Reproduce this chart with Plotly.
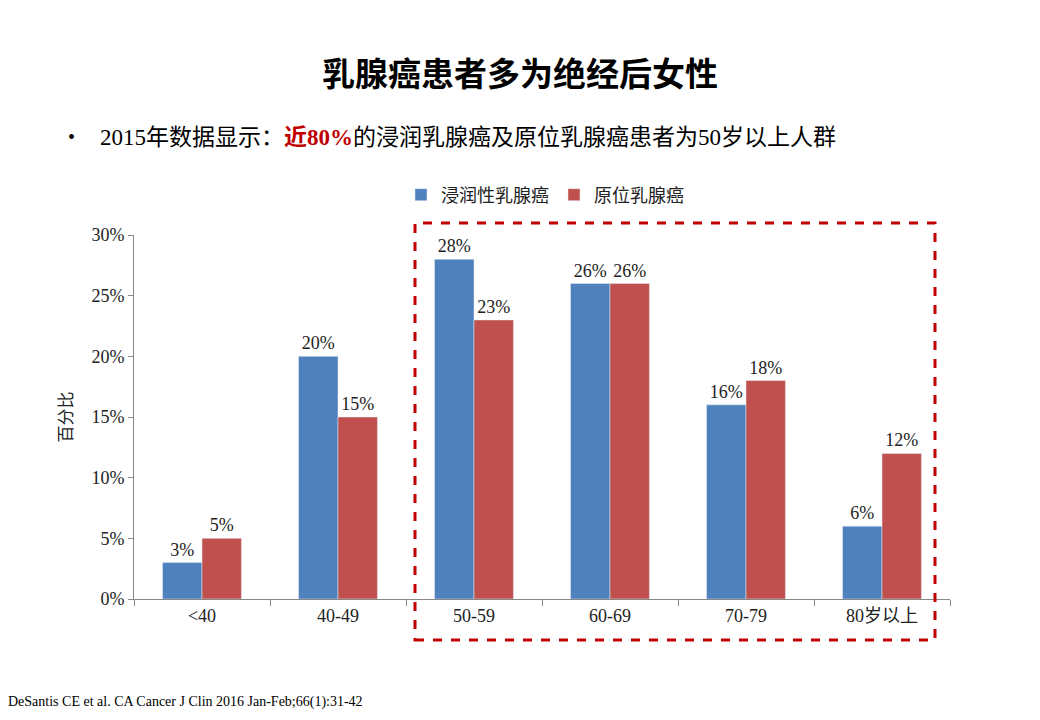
import plotly.graph_objects as go

categories = ["<40", "40-49", "50-59", "60-69", "70-79", "80岁以上"]
invasive = [3, 20, 28, 26, 16, 6]
insitu = [5, 15, 23, 26, 18, 12]
series_names = ["浸润性乳腺癌", "原位乳腺癌"]

serif = "Liberation Serif, Times New Roman, serif"
cjk = "Noto Sans CJK SC, sans-serif"

L, R, T, B = 126, 98, 227, 129
W = 1040 - L - R
H = 720 - T - B
def px(x): return (x - 8 - L) / W
def py(y): return (720 - B - (y - 8)) / H

fig = go.Figure()
for name, vals, col in [(series_names[0], invasive, "#4F81BD"), (series_names[1], insitu, "#C0504D")]:
    fig.add_trace(go.Bar(
        x=categories, y=vals, name=name, marker_color=col,
        text=[f"{v}%" for v in vals], textposition="outside", cliponaxis=False,
        textfont=dict(family=serif, size=18, color="#222"),
    ))

fig.update_layout(
    width=1040, height=720, plot_bgcolor="white", paper_bgcolor="white",
    margin=dict(l=L, r=R, t=T, b=B),
    barmode="group", bargap=0.42, bargroupgap=0,
    showlegend=True,
    legend=dict(orientation="h", x=px(545), xanchor="center", y=py(195), yanchor="middle",
                font=dict(family=cjk, size=18, color="#222")),
    yaxis=dict(range=[0, 30], dtick=5, ticksuffix="%", showgrid=False, showline=True,
               linecolor="#888", ticks="outside", tickcolor="#888",
               tickfont=dict(family=serif, size=18, color="#222"),
               title=dict(text="百分比", font=dict(family=cjk, size=17, color="#222"), standoff=14)),
    xaxis=dict(showline=True, linecolor="#888", ticks="outside", tickcolor="#888",
               tickson="boundaries", ticklen=6,
               tickfont=dict(family=serif + ", " + cjk, size=18, color="#222")),
)

fig.add_annotation(text="<b>乳腺癌患者多为绝经后女性</b>", xref="paper", yref="paper",
                   x=px(520), y=py(72), yanchor="middle", showarrow=False,
                   font=dict(family=cjk, size=33, color="#000"))
fig.add_annotation(text="•", xref="paper", yref="paper", x=px(66), y=py(137), yanchor="middle",
                   showarrow=False, font=dict(family=serif, size=20, color="#000"))
fig.add_annotation(
    text="2015年数据显示：<b><span style='color:#C00000'>近80%</span></b>的浸润乳腺癌及原位乳腺癌患者为50岁以上人群",
    xref="paper", yref="paper", x=px(98), y=py(137), xanchor="left", yanchor="middle",
    showarrow=False, font=dict(family=serif + ", " + cjk, size=23, color="#000"))
fig.add_annotation(text="DeSantis CE et al. CA Cancer J Clin 2016 Jan-Feb;66(1):31-42",
                   xref="paper", yref="paper", x=px(6), y=py(702), xanchor="left", yanchor="middle",
                   showarrow=False, font=dict(family=serif, size=14, color="#000"))

fig.add_shape(type="rect", xref="paper", yref="paper",
              x0=px(415), x1=px(935), y0=py(640), y1=py(223),
              line=dict(color="#C00000", width=3, dash="dash"))

fig.write_html("out.html")
